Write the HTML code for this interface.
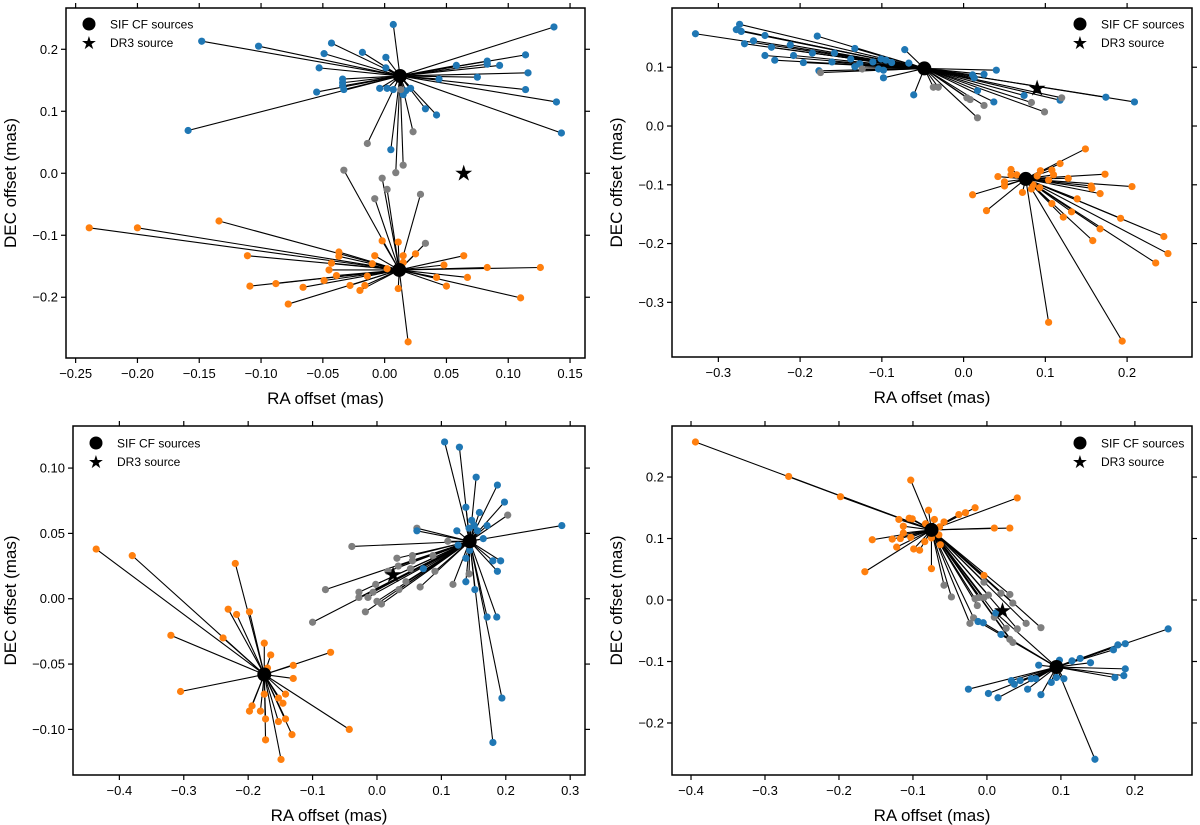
<!DOCTYPE html>
<html><head><meta charset="utf-8"><style>
body{margin:0;background:#fff;}
svg{display:block;font-family:"Liberation Sans",sans-serif;}
</style></head><body>
<svg id="fig" width="1200" height="825" viewBox="0 0 1200 825"></svg>
<script>
// ---------- Panel 1 (top-left) ----------
const p1CenterBlue=[0.0124,0.157];
const p1CenterOrange=[0.0118,-0.156];
const p1Star=[0.064,0.0];
const p1BlueX=[0.007,-0.148,-0.102,-0.043,-0.049,-0.018,0.001,-0.053,0.001,-0.034,-0.034,-0.033,-0.034,-0.055,-0.004,0.002,0.007,0.015,0.017,0.021,0.033,0.042,0.005,-0.159,0.058,0.083,0.083,0.093,0.114,0.116,0.075,0.044,0.114,0.139,0.143,0.137];
const p1BlueY=[0.240,0.213,0.205,0.210,0.193,0.195,0.187,0.170,0.170,0.152,0.146,0.135,0.141,0.131,0.137,0.137,0.135,0.127,0.133,0.137,0.104,0.094,0.038,0.069,0.174,0.181,0.176,0.174,0.191,0.162,0.155,0.152,0.135,0.115,0.065,0.236];
const p1GreyBX=[0.013,-0.014,0.023,0.015,0.009];
const p1GreyBY=[0.135,0.048,0.067,0.013,0.001];
const p1GreyOX=[-0.033,-0.002,0.002,-0.008,0.029,0.033];
const p1GreyOY=[0.005,-0.008,-0.026,-0.041,-0.034,-0.113];
const p1OrangeX=[-0.239,-0.200,-0.134,-0.111,-0.109,-0.088,-0.066,-0.078,-0.049,-0.045,-0.043,-0.037,-0.037,-0.039,-0.028,-0.020,-0.016,-0.014,-0.008,-0.010,-0.002,0.002,0.011,0.011,0.015,0.015,0.019,0.025,0.048,0.042,0.050,0.064,0.067,0.083,0.126,0.110];
const p1OrangeY=[-0.088,-0.088,-0.077,-0.133,-0.182,-0.178,-0.184,-0.211,-0.173,-0.156,-0.145,-0.127,-0.134,-0.165,-0.181,-0.189,-0.181,-0.166,-0.133,-0.146,-0.109,-0.154,-0.111,-0.186,-0.133,-0.144,-0.272,-0.130,-0.148,-0.168,-0.182,-0.133,-0.168,-0.152,-0.152,-0.201];
const p1XTicks=[-0.25,-0.20,-0.15,-0.10,-0.05,0.00,0.05,0.10,0.15];
const p1XLabels=["−0.25","−0.20","−0.15","−0.10","−0.05","0.00","0.05","0.10","0.15"];
const p1YTicks=[-0.2,-0.1,0.0,0.1,0.2];
const p1YLabels=["−0.2","−0.1","0.0","0.1","0.2"];

// ---------- Panel 2 (top-right) ----------
const p2CenterBlue=[-0.048,0.098];
const p2CenterOrange=[0.076,-0.090];
const p2Star=[0.090,0.064];
const p2BlueX=[-0.328,-0.274,-0.278,-0.272,-0.268,-0.257,-0.243,-0.235,-0.212,-0.243,-0.231,-0.208,-0.196,-0.185,-0.179,-0.177,-0.161,-0.158,-0.138,-0.133,-0.133,-0.127,-0.111,-0.104,-0.101,-0.098,-0.098,-0.095,-0.088,-0.072,-0.067,-0.061,0.011,0.013,0.025,0.040,0.017,0.037,0.074,0.118,0.174,0.209];
const p2BlueY=[0.157,0.173,0.164,0.161,0.140,0.145,0.154,0.134,0.138,0.120,0.112,0.120,0.108,0.124,0.153,0.094,0.109,0.124,0.114,0.132,0.101,0.106,0.109,0.097,0.114,0.095,0.082,0.112,0.108,0.130,0.107,0.053,0.087,0.082,0.088,0.095,0.060,0.041,0.052,0.044,0.049,0.041];
const p2GreyX=[-0.175,-0.124,-0.037,-0.031,0.004,0.008,0.025,0.017,0.083,0.099,0.120];
const p2GreyY=[0.091,0.097,0.066,0.066,0.048,0.045,0.035,0.014,0.040,0.024,0.048];
const p2OrangeX=[0.149,0.118,0.173,0.206,0.128,0.108,0.110,0.104,0.094,0.090,0.093,0.085,0.083,0.072,0.058,0.058,0.065,0.042,0.050,0.050,0.011,0.028,0.108,0.139,0.132,0.122,0.156,0.157,0.167,0.192,0.167,0.158,0.245,0.250,0.235,0.104,0.194];
const p2OrangeY=[-0.039,-0.064,-0.082,-0.103,-0.089,-0.075,-0.083,-0.092,-0.076,-0.085,-0.105,-0.100,-0.107,-0.113,-0.074,-0.083,-0.083,-0.086,-0.095,-0.102,-0.117,-0.144,-0.132,-0.124,-0.146,-0.155,-0.102,-0.106,-0.115,-0.157,-0.175,-0.195,-0.188,-0.217,-0.233,-0.334,-0.366];
const p2XTicks=[-0.3,-0.2,-0.1,0.0,0.1,0.2];
const p2XLabels=["−0.3","−0.2","−0.1","0.0","0.1","0.2"];
const p2YTicks=[-0.3,-0.2,-0.1,0.0,0.1];
const p2YLabels=["−0.3","−0.2","−0.1","0.0","0.1"];

// ---------- Panel 3 (bottom-left) ----------
const p3CenterOrange=[-0.175,-0.058];
const p3CenterBlue=[0.144,0.044];
const p3Star=[0.025,0.018];
const p3OrangeX=[-0.436,-0.380,-0.220,-0.231,-0.218,-0.198,-0.320,-0.239,-0.175,-0.165,-0.170,-0.072,-0.130,-0.130,-0.305,-0.175,-0.153,-0.142,-0.146,-0.194,-0.198,-0.181,-0.173,-0.153,-0.142,-0.132,-0.173,-0.149,-0.043];
const p3OrangeY=[0.038,0.033,0.027,-0.008,-0.012,-0.010,-0.028,-0.030,-0.034,-0.043,-0.053,-0.041,-0.051,-0.061,-0.071,-0.073,-0.076,-0.073,-0.080,-0.082,-0.086,-0.086,-0.092,-0.094,-0.092,-0.104,-0.108,-0.123,-0.100];
const p3BlueX=[0.105,0.128,0.154,0.187,0.138,0.198,0.159,0.147,0.151,0.143,0.156,0.171,0.124,0.062,0.287,0.165,0.126,0.144,0.138,0.180,0.192,0.187,0.072,0.138,0.152,0.171,0.186,0.194,0.180];
const p3BlueY=[0.120,0.116,0.093,0.087,0.070,0.074,0.066,0.060,0.056,0.054,0.052,0.056,0.052,0.052,0.056,0.046,0.041,0.037,0.031,0.029,0.029,0.021,0.023,0.013,0.007,-0.014,-0.014,-0.076,-0.110];
const p3GreyX=[0.203,0.062,-0.039,0.110,0.031,0.055,0.087,0.055,0.033,0.052,0.017,0.090,0.143,0.045,-0.002,0.067,0.118,0.034,-0.080,-0.028,-0.006,-0.014,-0.028,0.000,0.007,-0.018,-0.100];
const p3GreyY=[0.064,0.054,0.040,0.044,0.031,0.033,0.033,0.029,0.025,0.023,0.021,0.021,0.019,0.013,0.011,0.009,0.011,0.007,0.007,0.005,0.005,0.001,0.001,-0.002,-0.004,-0.010,-0.018];
const p3XTicks=[-0.4,-0.3,-0.2,-0.1,0.0,0.1,0.2,0.3];
const p3XLabels=["−0.4","−0.3","−0.2","−0.1","0.0","0.1","0.2","0.3"];
const p3YTicks=[-0.10,-0.05,0.00,0.05,0.10];
const p3YLabels=["−0.10","−0.05","0.00","0.05","0.10"];

// ---------- Panel 4 (bottom-right) ----------
const p4CenterOrange=[-0.075,0.114];
const p4CenterBlue=[0.094,-0.109];
const p4Star=[0.021,-0.018];
const p4OrangeX=[-0.394,-0.268,-0.198,-0.103,0.041,-0.016,-0.029,-0.038,-0.079,-0.119,-0.105,-0.101,-0.071,-0.058,-0.083,-0.113,-0.064,0.010,0.031,-0.113,-0.065,-0.155,-0.128,-0.117,-0.103,-0.084,-0.075,-0.122,-0.099,-0.091,-0.063,-0.165,-0.075,-0.004];
const p4OrangeY=[0.257,0.201,0.168,0.195,0.166,0.150,0.142,0.139,0.146,0.131,0.133,0.132,0.131,0.127,0.124,0.120,0.119,0.117,0.117,0.109,0.106,0.098,0.099,0.100,0.102,0.095,0.101,0.086,0.083,0.081,0.090,0.046,0.051,0.040];
const p4GreyX=[-0.004,-0.058,-0.048,-0.016,-0.011,-0.004,0.002,-0.013,0.019,0.031,0.035,0.010,-0.018,-0.023,0.026,0.041,0.053,0.073,0.031,0.035];
const p4GreyY=[0.029,0.024,0.005,0.002,0.004,0.004,0.008,-0.009,0.011,0.009,-0.005,-0.028,-0.029,-0.038,-0.046,-0.047,-0.038,-0.045,-0.064,-0.069];
const p4BlueX=[0.012,-0.012,-0.005,0.019,0.245,0.187,0.177,0.171,0.140,0.126,0.115,0.098,0.070,0.187,0.185,0.173,0.104,0.094,0.087,0.066,0.060,0.045,0.033,0.037,0.055,0.073,0.002,0.015,-0.025,0.146];
const p4BlueY=[-0.021,-0.035,-0.037,-0.056,-0.047,-0.071,-0.073,-0.081,-0.102,-0.095,-0.099,-0.098,-0.106,-0.112,-0.123,-0.126,-0.128,-0.126,-0.134,-0.128,-0.128,-0.131,-0.131,-0.137,-0.145,-0.154,-0.152,-0.159,-0.145,-0.259];
const p4XTicks=[-0.4,-0.3,-0.2,-0.1,0.0,0.1,0.2];
const p4XLabels=["−0.4","−0.3","−0.2","−0.1","0.0","0.1","0.2"];
const p4YTicks=[-0.2,-0.1,0.0,0.1,0.2];
const p4YLabels=["−0.2","−0.1","0.0","0.1","0.2"];

const BLUE="#1f77b4",ORANGE="#ff7f0e",GREY="#7f7f7f";
const svg=document.getElementById('fig');
const NS="http://www.w3.org/2000/svg";
function mk(tag,attrs,parent){const e=document.createElementNS(NS,tag);for(const k in attrs)e.setAttribute(k,attrs[k]);(parent||svg).appendChild(e);return e;}

function panel(cfg){
  const g=mk('g',{});
  
  
  const sx=v=>cfg.L+(v-cfg.xd[0])/(cfg.xd[1]-cfg.xd[0])*(cfg.R-cfg.L);
  const sy=v=>cfg.B-(v-cfg.yd[0])/(cfg.yd[1]-cfg.yd[0])*(cfg.B-cfg.T);
  // links
  const lg=mk('g',{stroke:'#000','stroke-width':1.1},g);
  
  
  cfg.groups.forEach(gr=>{
    gr.xs.forEach((x,i)=>{
      mk('line',{x1:sx(gr.c[0]),y1:sy(gr.c[1]),x2:sx(x),y2:sy(gr.ys[i])},lg);
    });
  });
  cfg.groups.forEach(gr=>{
    gr.xs.forEach((x,i)=>{
      const d=mk('circle',{cx:sx(x),cy:sy(gr.ys[i]),r:3.6,fill:gr.color},g);
      
      
    });
  });
  cfg.centers.forEach(c=>{
    const d=mk('circle',{cx:sx(c[0]),cy:sy(c[1]),r:7,fill:'#000'},g);
    
    
  });
  const st=mk('text',{x:sx(cfg.star[0]),y:sy(cfg.star[1])+7,'font-size':22,'text-anchor':'middle',fill:'#000'},g);
  st.textContent='★';
  
  
  // frame
  const fr=mk('rect',{x:cfg.L,y:cfg.T,width:cfg.R-cfg.L,height:cfg.B-cfg.T,fill:'none',stroke:'#000','stroke-width':1.5},g);
  
  
  // ticks
  cfg.xt.forEach((v,i)=>{
    const x=sx(v);
    mk('line',{x1:x,y1:cfg.B,x2:x,y2:cfg.B+5,stroke:'#000','stroke-width':1.2},g);
    mk('line',{x1:x,y1:cfg.T,x2:x,y2:cfg.T-5,stroke:'#000','stroke-width':1.2},g);
    const t=mk('text',{x:x,y:cfg.B+20,'font-size':13,'text-anchor':'middle',fill:'#000'},g);
    t.textContent=cfg.xl[i];
    
    
  });
  cfg.yt.forEach((v,i)=>{
    const y=sy(v);
    mk('line',{x1:cfg.L,y1:y,x2:cfg.L-5,y2:y,stroke:'#000','stroke-width':1.2},g);
    mk('line',{x1:cfg.R,y1:y,x2:cfg.R+5,y2:y,stroke:'#000','stroke-width':1.2},g);
    const t=mk('text',{x:cfg.L-8,y:y+4.5,'font-size':13,'text-anchor':'end',fill:'#000'},g);
    t.textContent=cfg.yl[i];
    
    
  });
  const xl=mk('text',{x:(cfg.L+cfg.R)/2,y:cfg.B+46,'font-size':17,'text-anchor':'middle',fill:'#000'},g);
  xl.textContent='RA offset (mas)';
  
  
  const yl=mk('text',{x:0,y:0,'font-size':17,'text-anchor':'middle',fill:'#000',transform:`translate(${cfg.ylx},${(cfg.T+cfg.B)/2}) rotate(-90)`},g);
  yl.textContent='DEC offset (mas)';
  
  
  // legend
  const lgd=mk('g',{},g);
  
  
  mk('circle',{cx:cfg.lx,cy:cfg.ly,r:6.5,fill:'#000'},lgd);
  const l1=mk('text',{x:cfg.lx+21,y:cfg.ly+4.5,'font-size':12,fill:'#000'},lgd);
  l1.textContent='SIF CF sources';
  
  
  const ls=mk('text',{x:cfg.lx,y:cfg.ly+25,'font-size':18,'text-anchor':'middle',fill:'#000'},lgd);
  ls.textContent='★';
  const l2=mk('text',{x:cfg.lx+21,y:cfg.ly+23,'font-size':12,fill:'#000'},lgd);
  l2.textContent='DR3 source';
  
  
}

panel({name:'panel-top-left',L:66,R:585,T:8,B:358,xd:[-0.2578,0.1621],yd:[-0.298,0.2666],ylx:16,lx:89,ly:24,
  xt:p1XTicks,xl:p1XLabels,yt:p1YTicks,yl:p1YLabels,centers:[p1CenterBlue,p1CenterOrange],star:p1Star,
  groups:[{xs:p1BlueX,ys:p1BlueY,c:p1CenterBlue,color:BLUE,label:'blue'},
          {xs:p1GreyBX,ys:p1GreyBY,c:p1CenterBlue,color:GREY,label:'grey'},
          {xs:p1GreyOX,ys:p1GreyOY,c:p1CenterOrange,color:GREY,label:'grey'},
          {xs:p1OrangeX,ys:p1OrangeY,c:p1CenterOrange,color:ORANGE,label:'orange'}]});
panel({name:'panel-top-right',L:672,R:1192,T:8,B:357,xd:[-0.3567,0.2794],yd:[-0.393,0.2008],ylx:622,lx:1080,ly:24,
  xt:p2XTicks,xl:p2XLabels,yt:p2YTicks,yl:p2YLabels,centers:[p2CenterBlue,p2CenterOrange],star:p2Star,
  groups:[{xs:p2BlueX,ys:p2BlueY,c:p2CenterBlue,color:BLUE,label:'blue'},
          {xs:p2GreyX,ys:p2GreyY,c:p2CenterBlue,color:GREY,label:'grey'},
          {xs:p2OrangeX,ys:p2OrangeY,c:p2CenterOrange,color:ORANGE,label:'orange'}]});
panel({name:'panel-bottom-left',L:73,R:585,T:426,B:775,xd:[-0.472,0.323],yd:[-0.1349,0.1322],ylx:16,lx:96,ly:443,
  xt:p3XTicks,xl:p3XLabels,yt:p3YTicks,yl:p3YLabels,centers:[p3CenterOrange,p3CenterBlue],star:p3Star,
  groups:[{xs:p3OrangeX,ys:p3OrangeY,c:p3CenterOrange,color:ORANGE,label:'orange'},
          {xs:p3GreyX,ys:p3GreyY,c:p3CenterBlue,color:GREY,label:'grey'},
          {xs:p3BlueX,ys:p3BlueY,c:p3CenterBlue,color:BLUE,label:'blue'}]});
panel({name:'panel-bottom-right',L:672,R:1192,T:426,B:775,xd:[-0.4257,0.2772],yd:[-0.2846,0.283],ylx:622,lx:1080,ly:443,
  xt:p4XTicks,xl:p4XLabels,yt:p4YTicks,yl:p4YLabels,centers:[p4CenterOrange,p4CenterBlue],star:p4Star,
  groups:[{xs:p4OrangeX,ys:p4OrangeY,c:p4CenterOrange,color:ORANGE,label:'orange'},
          {xs:p4GreyX,ys:p4GreyY,c:p4CenterOrange,color:GREY,label:'grey'},
          {xs:p4BlueX,ys:p4BlueY,c:p4CenterBlue,color:BLUE,label:'blue'}]});
</script>
</body></html>
